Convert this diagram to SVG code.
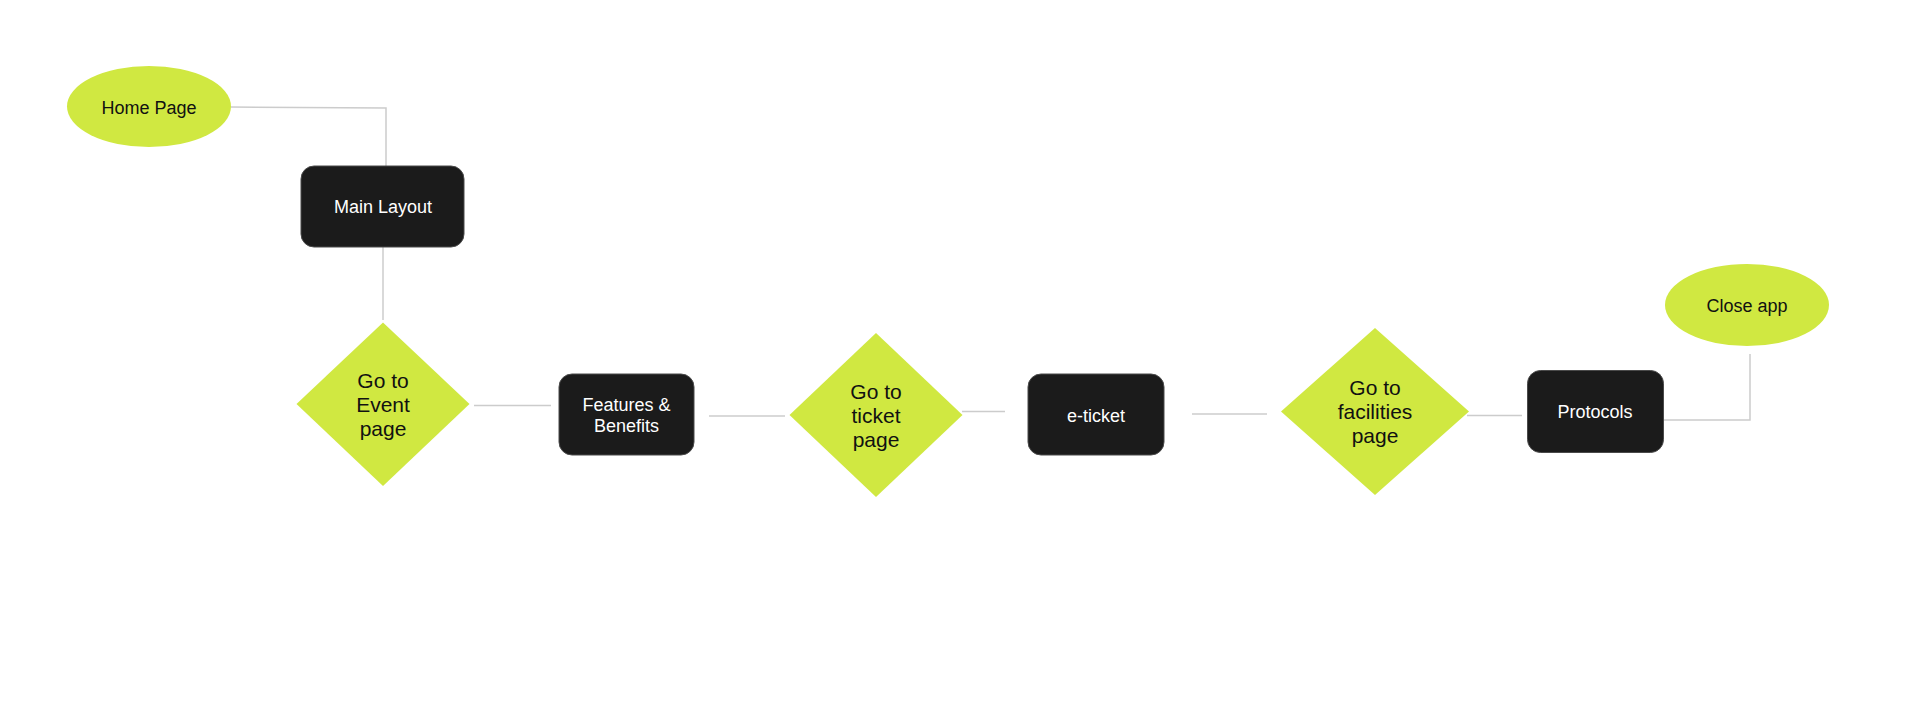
<svg xmlns="http://www.w3.org/2000/svg" width="1920" height="719" viewBox="0 0 1920 719">
<style>
.term{fill:#d0e841}
.dec{fill:#d0e841}
.box{fill:#1b1b1b;stroke:#4a4a4a;stroke-width:1}
.conn{fill:none;stroke:#cccccc;stroke-width:1.5}
.dt{font-family:"Liberation Sans",Arial,sans-serif;font-size:18px;fill:#111111;text-anchor:middle}
.lt{font-family:"Liberation Sans",Arial,sans-serif;font-size:18px;fill:#ffffff;text-anchor:middle}
.big{font-family:"Liberation Sans",Arial,sans-serif;font-size:21px;fill:#111111;text-anchor:middle}
</style>
<rect width="1920" height="719" fill="#ffffff"/>
<g id="connectors">
<polyline class="conn" points="231,107 386,108 386,166"/>
<line class="conn" x1="383" y1="247" x2="383" y2="320"/>
<line class="conn" x1="474" y1="405.5" x2="551" y2="405.5"/>
<line class="conn" x1="709" y1="416" x2="785" y2="416"/>
<line class="conn" x1="962" y1="411.5" x2="1005" y2="411.5"/>
<line class="conn" x1="1192" y1="414" x2="1267" y2="414"/>
<line class="conn" x1="1467" y1="415.5" x2="1522" y2="415.5"/>
<polyline class="conn" points="1663,420 1750,420 1750,354"/>
</g>
<g id="home-page">
<ellipse class="term" cx="149" cy="106.5" rx="82" ry="40.5"/>
<text class="dt" x="149" y="114">Home Page</text>
</g>
<g id="main-layout">
<rect class="box" x="301" y="166" width="163" height="81" rx="13"/>
<text class="lt" x="383" y="213">Main Layout</text>
</g>
<g id="go-to-event">
<polygon class="dec" points="383,322.5 469.5,404 383,486 296.5,404"/>
<text class="big" x="383" y="388">Go to</text>
<text class="big" x="383" y="412">Event</text>
<text class="big" x="383" y="436">page</text>
</g>
<g id="features-benefits">
<rect class="box" x="559" y="374" width="135" height="81" rx="13"/>
<text class="lt" x="626.5" y="411">Features &amp;</text>
<text class="lt" x="626.5" y="431.5">Benefits</text>
</g>
<g id="go-to-ticket">
<polygon class="dec" points="876,333 962.5,415 876,497 789.5,415"/>
<text class="big" x="876" y="399">Go to</text>
<text class="big" x="876" y="423">ticket</text>
<text class="big" x="876" y="447">page</text>
</g>
<g id="e-ticket">
<rect class="box" x="1028" y="374" width="136" height="81" rx="13"/>
<text class="lt" x="1096" y="421.5">e-ticket</text>
</g>
<g id="go-to-facilities">
<polygon class="dec" points="1375,328 1469,411.5 1375,495 1281,411.5"/>
<text class="big" x="1375" y="395">Go to</text>
<text class="big" x="1375" y="419">facilities</text>
<text class="big" x="1375" y="443">page</text>
</g>
<g id="protocols">
<rect class="box" x="1527.5" y="370.5" width="136" height="82" rx="13"/>
<text class="lt" x="1595" y="418">Protocols</text>
</g>
<g id="close-app">
<ellipse class="term" cx="1747" cy="305" rx="82" ry="41"/>
<text class="dt" x="1747" y="312">Close app</text>
</g>
</svg>
